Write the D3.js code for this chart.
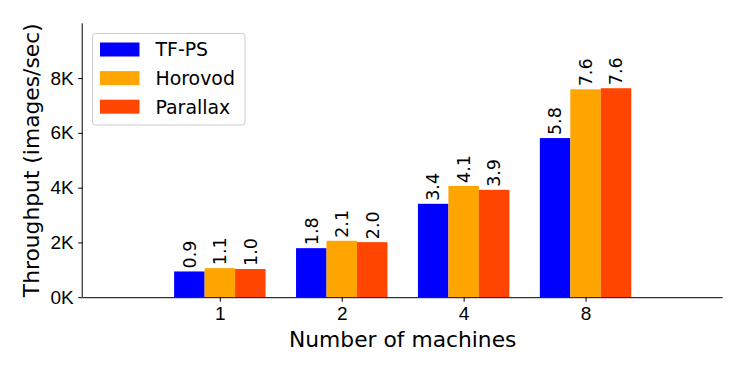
<!DOCTYPE html>
<html>
<head>
<meta charset="utf-8">
<script src="https://cdn.jsdelivr.net/npm/d3@7"></script>
<style>
  body { margin: 0; background: #fff; }
  svg { font-family: "DejaVu Sans", sans-serif; }
  .axis path, .axis line { stroke: #000; stroke-width: 1; }
  .axis text { font-size: 19px; fill: #000; }
  .label { font-size: 21.8px; fill: #000; }
  .barlabel { font-size: 17.5px; fill: #000; }
  .legend text { font-size: 18.9px; fill: #000; }
</style>
</head>
<body>
<svg width="747" height="374"></svg>
<script>
var machines = ["1", "2", "4", "8"];
var seriesNames = ["TF-PS", "Horovod", "Parallax"];
var seriesColors = ["#0000ff", "#ffa500", "#ff4500"];
// throughput in images/sec
var tfps = [940, 1790, 3410, 5810];
var horovod = [1060, 2060, 4060, 7590];
var parallax = [1030, 2010, 3920, 7630];
var yTicks = [0, 2000, 4000, 6000, 8000];

var series = [tfps, horovod, parallax];

var pArea = [82.7, 23.3, 722.7, 297.2];
var barW = 0.25;

var svg = d3.select("svg");
var g = svg.append("g");

var xScale = d3.scaleLinear()
  .domain([-1.125, 4.125])
  .range([pArea[0], pArea[2]]);

var yScale = d3.scaleLinear()
  .domain([0, 10000])
  .range([pArea[3], pArea[1]]);

// bars
series.forEach(function(vals, s) {
  var off = (s - 1) * barW;
  g.selectAll(".bar" + s)
    .data(vals)
    .enter()
    .append("rect")
      .attr("class", "bar" + s)
      .attr("x", (d, i) => xScale(i + off - barW / 2))
      .attr("width", xScale(barW) - xScale(0))
      .attr("y", d => yScale(d))
      .attr("height", d => yScale(0) - yScale(d))
      .attr("fill", seriesColors[s]);

  g.selectAll(".barlabel" + s)
    .data(vals)
    .enter()
    .append("text")
      .attr("class", "barlabel")
      .attr("transform", (d, i) => `translate(${xScale(i + off) + 6.3},${yScale(d) - 3}) rotate(-90)`)
      .text(d => (d / 1000).toFixed(1));
});

// x-axis
var xAxis = g.append("g")
  .attr("class", "axis axis--x")
  .attr("transform", `translate(0,${pArea[3]})`)
  .call(d3.axisBottom(xScale)
    .tickValues([0, 1, 2, 3])
    .tickFormat(i => machines[i])
    .tickSize(4.5)
    .tickPadding(4.5)
    .tickSizeOuter(0));
xAxis.select(".domain").attr("d", `M${pArea[0]},0.5H${pArea[2]}`);

g.append("text")
  .attr("class", "label")
  .attr("x", (pArea[0] + pArea[2]) / 2)
  .attr("y", 346.5)
  .attr("text-anchor", "middle")
  .text("Number of machines");

// y-axis
var yAxis = g.append("g")
  .attr("class", "axis axis--y")
  .attr("transform", `translate(${pArea[0]},0)`)
  .call(d3.axisLeft(yScale)
    .tickValues(yTicks)
    .tickFormat(d => d / 1000 + "K")
    .tickSize(4.5)
    .tickPadding(4.5)
    .tickSizeOuter(0));
yAxis.select(".domain").attr("d", `M-0.5,${pArea[3]}V${pArea[1]}`);

g.append("text")
  .attr("class", "label")
  .attr("transform", "rotate(-90)")
  .attr("x", -(pArea[1] + pArea[3]) / 2)
  .attr("y", 39)
  .attr("text-anchor", "middle")
  .text("Throughput (images/sec)");

// legend
var legend = g.append("g").attr("class", "legend");
legend.append("rect")
  .attr("x", 92.5).attr("y", 33.5)
  .attr("width", 152.5).attr("height", 91.5)
  .attr("rx", 3)
  .attr("fill", "#fff").attr("fill-opacity", 0.8)
  .attr("stroke", "#cccccc");

var items = legend.selectAll(".item")
  .data(seriesNames)
  .enter()
  .append("g")
    .attr("class", "item")
    .attr("transform", (d, i) => `translate(100,${49.5 + i * 28.6})`);

items.append("rect")
  .attr("x", 0).attr("y", -7)
  .attr("width", 39.5).attr("height", 14)
  .attr("fill", (d, i) => seriesColors[i]);

items.append("text")
  .attr("x", 55.5)
  .attr("y", 0)
  .attr("dy", "0.36em")
  .text(d => d);
</script>
</body>
</html>
